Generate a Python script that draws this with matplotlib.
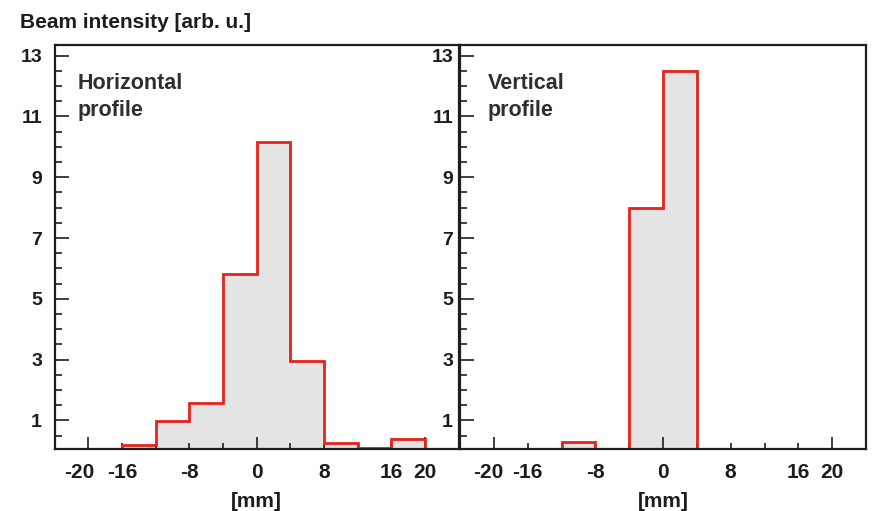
import matplotlib
matplotlib.use("Agg")
import matplotlib.pyplot as plt
from matplotlib.ticker import FixedLocator, MultipleLocator
from matplotlib.transforms import ScaledTranslation

# Bin edges (mm) and beam intensity per bin [arb. u.]
bin_edges = [-16, -12, -8, -4, 0, 4, 8, 12, 16, 20]
horizontal_counts = [0.2, 0.97, 1.57, 5.82, 10.15, 2.97, 0.27, 0.1, 0.38]
vertical_counts = [0.0, 0.3, 0.0, 8.0, 12.5, 0.0, 0.0, 0.0, 0.0]

panel_labels = ["Horizontal\nprofile", "Vertical\nprofile"]
x_tick_values = [-20, -16, -8, 0, 8, 16, 20]
x_tick_labels = ["-20", "-16", "-8", "0", "8", "16", "20"]
x_long_ticks = [-20, 0, 20]
x_minor_values = [-12, -4, 4, 12]
y_tick_values = [1, 3, 5, 7, 9, 11, 13]

FONT = "Liberation Sans"
TEXT_COLOR = "#1c1c1c"
FILL = "#e4e4e4"
EDGE = "#e3241d"
SPINE = "#1e1e1e"

W, H = 874, 511
fig = plt.figure(figsize=(W / 100, H / 100), dpi=100)
plt.rcParams["font.family"] = [FONT, "DejaVu Sans"]


def px_axes(x0, x1, y0, y1):
    """Axes rectangle given in pixel coordinates (origin top-left)."""
    return fig.add_axes([x0 / W, 1 - y1 / H, (x1 - x0) / W, (y1 - y0) / H])


ax_h = px_axes(54.5, 458.5, 45, 449.3)
ax_v = px_axes(460, 866, 45, 449.3)

for ax, counts, label, ypad, tx, shift in [
    (ax_h, horizontal_counts, panel_labels[0], 9, 0.057, -9),
    (ax_v, vertical_counts, panel_labels[1], 5, 0.069, -6),
]:
    ax.stairs(counts, bin_edges, fill=True, color=FILL, zorder=1)
    ax.stairs(counts, bin_edges, fill=False, color=EDGE, lw=2.0, zorder=2)

    ax.set_xlim(-24, 24)
    ax.set_ylim(0.05, 13.35)

    ax.xaxis.set_major_locator(FixedLocator(x_tick_values))
    ax.set_xticklabels(x_tick_labels)
    ax.xaxis.set_minor_locator(FixedLocator(x_minor_values))
    ax.yaxis.set_major_locator(FixedLocator(y_tick_values))
    ax.yaxis.set_minor_locator(MultipleLocator(0.5))

    ax.tick_params(axis="x", which="major", direction="in", length=4.5,
                   width=1.2, color=SPINE, pad=10, labelsize=15,
                   labelcolor=TEXT_COLOR)
    ax.tick_params(axis="x", which="minor", direction="in", length=4.5,
                   width=1.2, color=SPINE)
    ax.tick_params(axis="y", which="major", direction="in", length=10,
                   width=1.2, color=SPINE, pad=ypad, labelsize=14,
                   labelcolor=TEXT_COLOR)
    ax.tick_params(axis="y", which="minor", direction="in", length=5,
                   width=1.2, color=SPINE)

    # longer ticks at -20, 0 and 20; nudge the -20 label away from -16
    for val, tick in zip(x_tick_values, ax.xaxis.get_major_ticks()):
        if val in x_long_ticks:
            tick.tick1line.set_markersize(9)
        if val == -20:
            tick.label1.set_transform(
                tick.label1.get_transform()
                + ScaledTranslation(shift / 100, 0, fig.dpi_scale_trans))

    for lab in ax.get_xticklabels() + ax.get_yticklabels():
        lab.set_fontweight("bold")

    for side in ["left", "right", "top", "bottom"]:
        ax.spines[side].set_color(SPINE)
        ax.spines[side].set_linewidth(1.6)
        ax.spines[side].set_zorder(3)

    ax.set_xlabel("[mm]", fontsize=15, fontweight="bold", color=TEXT_COLOR,
                  labelpad=7)

    ax.text(tx, 0.93, label, transform=ax.transAxes, ha="left", va="top",
            fontsize=15.5, fontweight="bold", color="#2e2e2e",
            linespacing=1.35)

fig.text(20 / W, 1 - 28 / H, "Beam intensity [arb. u.]", ha="left",
         va="baseline", fontsize=15, fontweight="bold", color=TEXT_COLOR)

# slide title running off the top edge
for ch, xpx in [("g", 536), ("p", 619)]:
    fig.text(xpx / W, 1 + 11 / H, ch, ha="left", va="baseline", fontsize=22,
             fontweight="bold", color="#3a3ab8")

fig.savefig("out.png", dpi=100)
